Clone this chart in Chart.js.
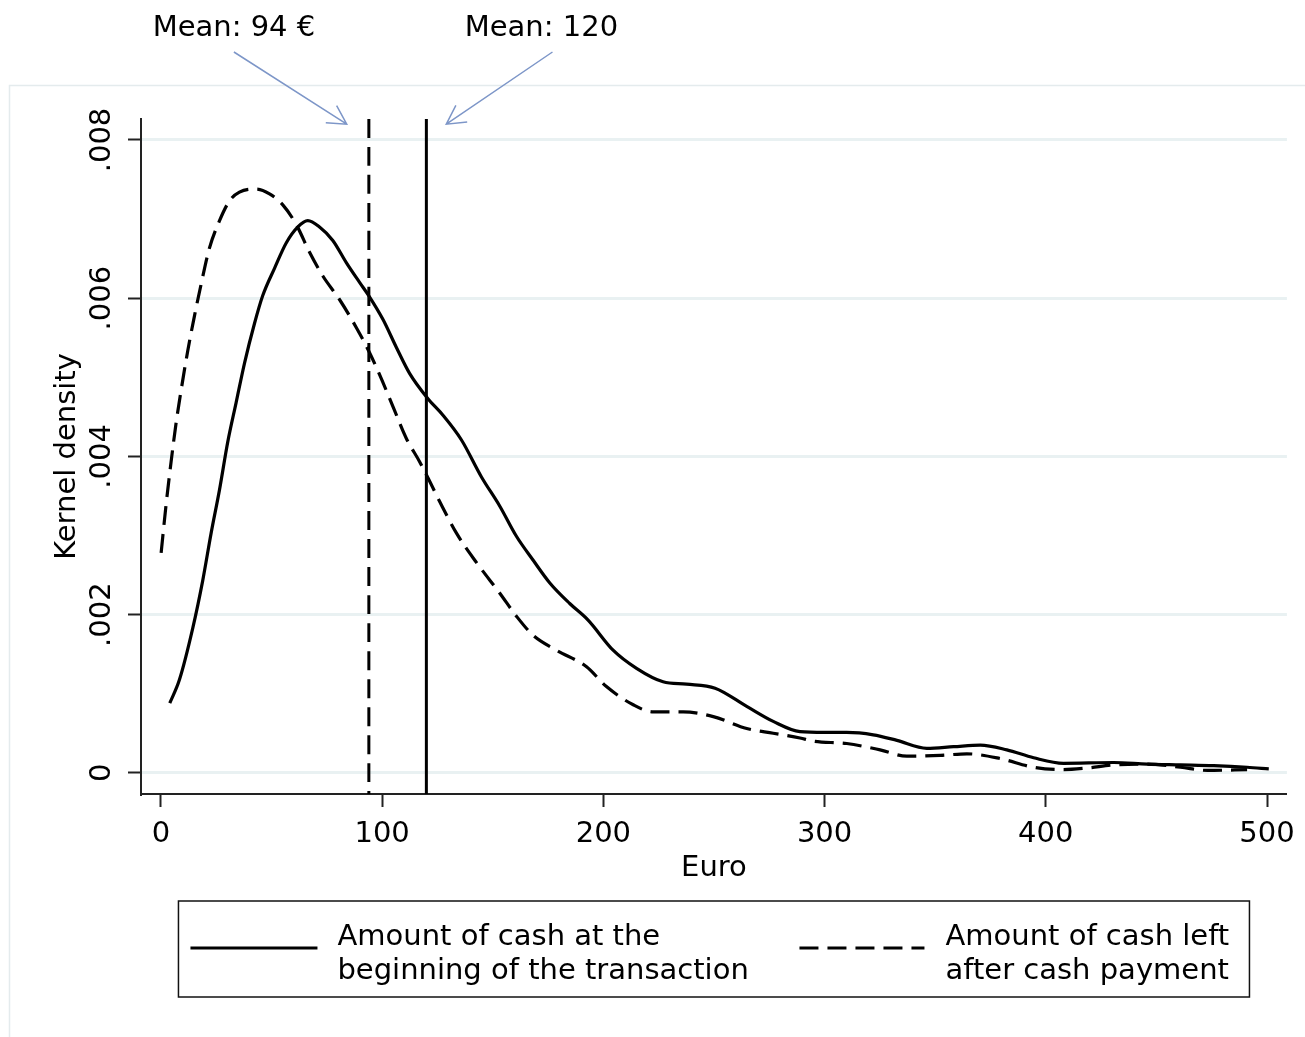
<!DOCTYPE html>
<html>
<head>
<meta charset="utf-8">
<title>Kernel density of cash holdings</title>
<script src="https://cdn.jsdelivr.net/npm/chart.js@4.4.1/dist/chart.umd.min.js"></script>
<style>
  html, body { margin: 0; padding: 0; background: #fff; }
  canvas { display: block; }
</style>
</head>
<body>
<canvas id="graficoDensidade" width="1305" height="1037"></canvas>
<script>
// Values
const euroStart = [4, 8.4, 14.4, 18.9, 22.7, 26.5, 30.2, 34, 37.8, 42.3, 46, 51.4, 56.7, 61.9, 66.4, 71.7, 77.7, 83.8, 89.8, 94,
  100.4, 106.4, 112.4, 120.7, 127.5, 135.8, 144.9, 153.2, 160.7, 168.2, 175.8, 184.8, 193.1, 204.4, 215, 227, 237.6, 250.5,
  264.8, 276.8, 288.9, 300, 310, 322, 332.7, 346.2, 358.3, 370.4, 382.4, 394.5, 408, 430.7, 445.8, 460.9, 475.9, 491, 500.8];
const densStart = [0.00088, 0.00118, 0.00183, 0.00243, 0.00303, 0.00358, 0.00418, 0.00468, 0.00518, 0.00568, 0.00603, 0.00638,
  0.0067, 0.0069, 0.00698, 0.0069, 0.00673, 0.00645, 0.0062, 0.00603, 0.00573, 0.00538, 0.00505, 0.00473, 0.00452, 0.00421,
  0.00374, 0.00337, 0.00299, 0.00269, 0.0024, 0.00214, 0.00193, 0.00155, 0.00132, 0.00115, 0.00112, 0.00107, 0.00084,
  0.00065, 0.00052, 0.00051, 0.00051, 0.00048, 0.00041, 0.00031, 0.00033, 0.00035, 0.00029, 0.00019, 0.00012, 0.00013,
  0.00011, 0.0001, 0.00009, 0.00007, 0.00005];

const euroLeft = [0.1, 2.3, 4.6, 6.9, 9.1, 12.1, 15.2, 18.2, 21.9, 26.5, 31, 35.5, 43.1, 49.1, 55.1, 61.2, 67.2, 73.2, 80.8,
  88.3, 94, 98.9, 104.9, 110.9, 117, 120.7, 126, 133.6, 142.6, 153.2, 160.7, 168.2, 178.8, 192.4, 201.4, 213.5, 222.5,
  236.1, 249.7, 264.8, 276.8, 288.9, 294.9, 310, 325.1, 337.2, 352.3, 364.3, 379.4, 394.5, 408, 418.6, 430.7, 445.8,
  460.9, 473, 491];
const densLeft = [0.00278, 0.00338, 0.00393, 0.00443, 0.00483, 0.00533, 0.00578, 0.00618, 0.00663, 0.00698, 0.00723,
  0.00734, 0.00738, 0.00732, 0.00718, 0.00693, 0.00658, 0.00628, 0.00598, 0.00563, 0.00533, 0.00503, 0.00463, 0.00423,
  0.00393, 0.00373, 0.00343, 0.00303, 0.00266, 0.00227, 0.00198, 0.00174, 0.00155, 0.00134, 0.00109, 0.00086, 0.00077,
  0.00077, 0.00071, 0.00056, 0.0005, 0.00044, 0.0004, 0.00037, 0.00029, 0.00021, 0.00022, 0.00024, 0.00018, 0.00007,
  0.00004, 0.00006, 0.0001, 0.00011, 0.00007, 0.00003, 0.00004];

const meanValues = [94, 120];
const meanLabels = ['Mean: 94 €', 'Mean: 120'];
const meanLabelX = [33, 172];
const arrowTailX = [33, 177];
const arrowTipX = [84, 129];
const arrowTipY = 0.0082;

const seriesNames = [
  ['Amount of cash at the', 'beginning of the transaction'],
  ['Amount of cash left', 'after cash payment']
];

const xTicks = [0, 100, 200, 300, 400, 500];
const yTicks = [0, 0.002, 0.004, 0.006, 0.008];
const yTickLabels = ['0', '.002', '.004', '.006', '.008'];
const xMin = -9, xMax = 509;
const yMin = -0.000268, yMax = 0.008265;

const FONTE = 'DejaVu Sans';
const TAM = 29;
const DASH = [19, 9];

function pontos(xs, ys) {
  return xs.map((x, i) => ({ x: x, y: ys[i] }));
}

// drawn top-down so the dash pattern starts at the top like the original
function linhaMedia(v) {
  return [{ x: v, y: yMax }, { x: v, y: yMin }];
}

// frame around the graph region
const moldura = {
  id: 'moldura',
  beforeDraw(chart) {
    const ctx = chart.ctx;
    ctx.save();
    ctx.strokeStyle = '#e4ebed';
    ctx.lineWidth = 1.5;
    ctx.strokeRect(9.5, 85.5, 1400, 1000);
    ctx.restore();
  }
};

// mean labels with arrows, and the boxed legend
const anotacoes = {
  id: 'anotacoes',
  afterDraw(chart) {
    const ctx = chart.ctx;
    const area = chart.chartArea;
    const sx = chart.scales.x;
    const sy = chart.scales.y;
    ctx.save();
    ctx.font = TAM + 'px "' + FONTE + '"';
    ctx.fillStyle = '#000';
    ctx.textAlign = 'center';
    ctx.textBaseline = 'middle';

    meanLabels.forEach((txt, i) => {
      ctx.fillText(txt, sx.getPixelForValue(meanLabelX[i]), area.top - 91);

      const x0 = sx.getPixelForValue(arrowTailX[i]);
      const y0 = area.top - 67;
      const x1 = sx.getPixelForValue(arrowTipX[i]);
      const y1 = sy.getPixelForValue(arrowTipY);
      const ang = Math.atan2(y0 - y1, x0 - x1);
      ctx.strokeStyle = '#7d96c8';
      ctx.lineWidth = 1.5;
      ctx.beginPath();
      ctx.moveTo(x0, y0);
      ctx.lineTo(x1, y1);
      ctx.moveTo(x1 + 21 * Math.cos(ang + 0.5), y1 + 21 * Math.sin(ang + 0.5));
      ctx.lineTo(x1, y1);
      ctx.lineTo(x1 + 21 * Math.cos(ang - 0.5), y1 + 21 * Math.sin(ang - 0.5));
      ctx.stroke();
    });

    // legend
    const larg = 1071, alt = 96;
    const esq = (area.left + area.right) / 2 - larg / 2;
    const topo = area.bottom + 107;
    ctx.strokeStyle = '#111';
    ctx.lineWidth = 1.5;
    ctx.strokeRect(esq, topo, larg, alt);

    const amostras = [
      { x0: esq + 12, x1: esq + 139, tx: esq + 159, dash: [] },
      { x0: esq + 621, x1: esq + 746, tx: esq + 767, dash: DASH }
    ];
    ctx.textAlign = 'left';
    amostras.forEach((a, i) => {
      ctx.strokeStyle = '#000';
      ctx.lineWidth = 3;
      ctx.setLineDash(a.dash);
      ctx.beginPath();
      ctx.moveTo(a.x0, topo + 47);
      ctx.lineTo(a.x1, topo + 47);
      ctx.stroke();
      ctx.setLineDash([]);
      ctx.fillText(seriesNames[i][0], a.tx, topo + 36);
      ctx.fillText(seriesNames[i][1], a.tx, topo + 70);
    });
    ctx.restore();
  }
};

const fonteEixo = { family: FONTE, size: TAM };

new Chart(document.getElementById('graficoDensidade'), {
  type: 'line',
  data: {
    datasets: [
      { data: pontos(euroStart, densStart), borderColor: '#000', borderWidth: 3.2 },
      { data: pontos(euroLeft, densLeft), borderColor: '#000', borderWidth: 3.2, borderDash: DASH },
      { data: linhaMedia(meanValues[0]), borderColor: '#000', borderWidth: 3, borderDash: DASH },
      { data: linhaMedia(meanValues[1]), borderColor: '#000', borderWidth: 3 }
    ]
  },
  options: {
    responsive: false,
    animation: false,
    events: [],
    elements: {
      point: { radius: 0 },
      line: { cubicInterpolationMode: 'monotone', fill: false }
    },
    layout: { padding: { left: 10, top: 119, right: 18, bottom: 143 } },
    plugins: {
      legend: { display: false },
      tooltip: { enabled: false }
    },
    scales: {
      x: {
        type: 'linear',
        min: xMin,
        max: xMax,
        afterBuildTicks: s => { s.ticks = xTicks.map(v => ({ value: v })); },
        afterFit: s => { s.height = 100; },
        ticks: {
          color: '#000', font: fonteEixo, padding: 10, autoSkip: false,
          maxRotation: 0, callback: v => String(v)
        },
        grid: { drawOnChartArea: false, tickColor: '#222', tickWidth: 2, tickLength: 13 },
        border: { color: '#222', width: 2 },
        title: { display: true, text: 'Euro', color: '#000', font: fonteEixo, padding: { top: 0, bottom: 8 } }
      },
      y: {
        type: 'linear',
        min: yMin,
        max: yMax,
        afterBuildTicks: s => { s.ticks = yTicks.map(v => ({ value: v })); },
        afterFit: s => { s.width = 131; },
        ticks: {
          color: '#000', font: fonteEixo, padding: -7, minRotation: 90, maxRotation: 90,
          crossAlign: 'center', callback: (v, i) => yTickLabels[i]
        },
        grid: { color: '#e9f1f2', lineWidth: 3, tickColor: '#222', tickWidth: 2, tickLength: 13 },
        border: { color: '#222', width: 2 },
        title: { display: true, text: 'Kernel density', color: '#000', font: fonteEixo, padding: { top: 40, bottom: 0 } }
      }
    }
  },
  plugins: [moldura, anotacoes]
});
</script>
</body>
</html>
